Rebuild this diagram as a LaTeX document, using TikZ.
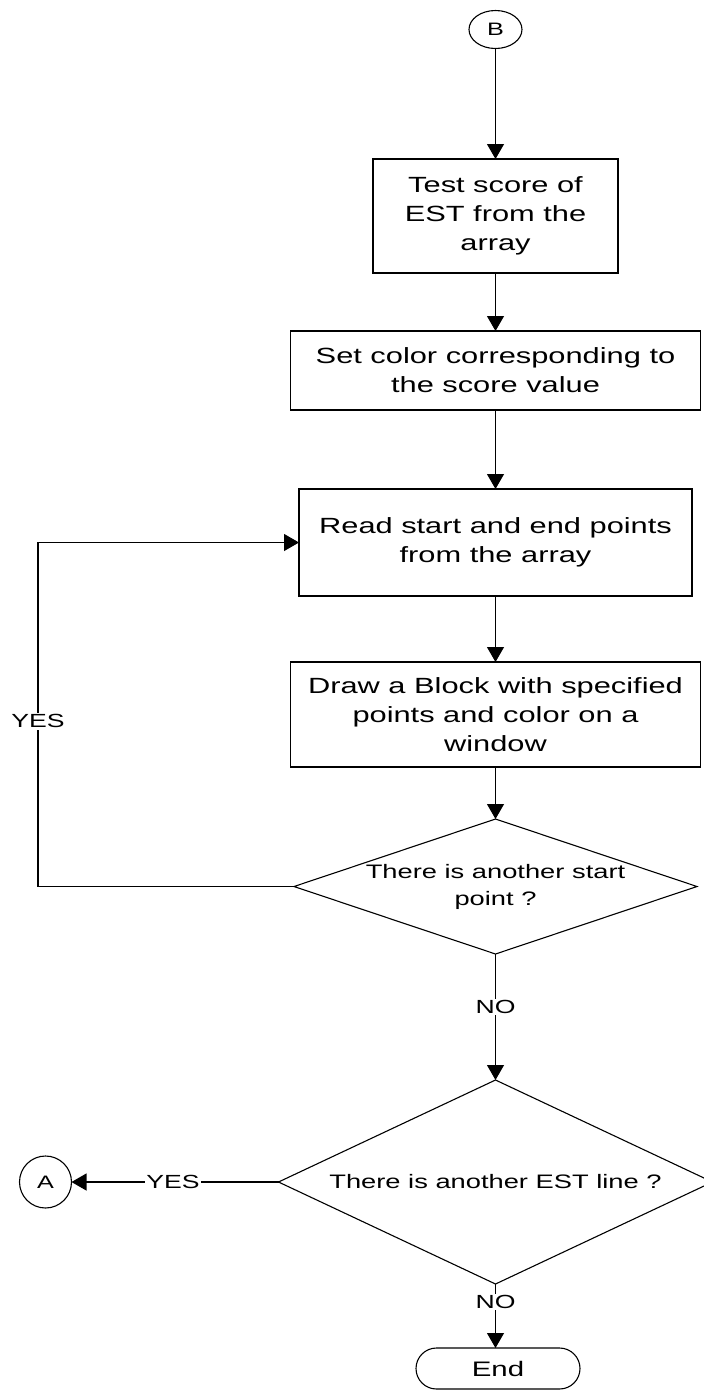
\documentclass[tikz,border=0pt]{standalone}
\usepackage{fontspec}
\usepackage{graphicx}
\setmainfont{Liberation Sans}
\usetikzlibrary{arrows.meta,shapes.geometric,shapes.misc}

% horizontally widened lettering
\newcommand{\wide}[1]{\scalebox{1.4}[1]{#1}}

\begin{document}
\begin{tikzpicture}[x=1pt,y=-1pt,
  every node/.style={inner sep=0pt, outer sep=0pt},
  procbox/.style={draw, line width=1.1pt, rectangle, align=center,
    font=\fontsize{22}{29}\selectfont},
  decision/.style={draw, line width=1.1pt, diamond},
  dtext/.style={align=center, font=\fontsize{19.5}{27}\selectfont},
  connector/.style={draw, line width=1.1pt, font=\fontsize{18}{20}\selectfont},
  terminal/.style={draw, line width=1.1pt, rounded rectangle,
    font=\fontsize{21}{24}\selectfont},
  flow/.style={line width=1.1pt, -{Triangle[width=17pt,length=15pt]}},
  plainline/.style={line width=1.1pt},
  lbl/.style={fill=white, inner sep=1.5pt, font=\fontsize{19}{22}\selectfont}
]
\useasboundingbox (0,0) rectangle (704,1390);

% connector B at the top
\node[connector, ellipse, minimum width=53pt, minimum height=38pt] (B) at (495.5,29.5) {\wide{B}};

% process steps
\node[procbox, minimum width=245pt, minimum height=114pt] (p1) at (495.5,216)
  {\wide{Test score of}\\\wide{EST from the}\\\wide{array}};
\node[procbox, minimum width=410pt, minimum height=79pt] (p2) at (495.5,370.5)
  {\wide{Set color corresponding to}\\\wide{the score value}};
\node[procbox, minimum width=393pt, minimum height=107pt] (p3) at (495.5,542.5)
  {\wide{Read start and end points}\\\wide{from the array}};
\node[procbox, minimum width=410pt, minimum height=105pt] (p4) at (495.5,714.5)
  {\wide{Draw a Block with specified}\\\wide{points and color on a}\\\wide{window}};

% decisions
\node[decision, minimum width=403pt, minimum height=135pt] (d1) at (495.5,886.5) {};
\node[dtext] (d1t) at (d1.center) {\wide{There is another start}\\\wide{point ?}};
\node[decision, minimum width=434pt, minimum height=204pt] (d2) at (495.5,1182) {};
\node[dtext] (d2t) at (d2.center) {\wide{There is another EST line ?}};

% connector A and the end terminal
\node[connector, circle, minimum size=52pt] (A) at (45.5,1182) {\wide{A}};
\node[terminal, minimum width=164pt, minimum height=41pt] (end) at (498,1368.5) {\wide{End}};

% loop corner on the left
\coordinate (loop) at (38,886.5);

% main flow
\draw[flow] (B) -- (p1);
\draw[flow] (p1) -- (p2);
\draw[flow] (p2) -- (p3);
\draw[flow] (p3) -- (p4);
\draw[flow] (p4) -- (d1);
\draw[flow] (d1.south) -- node[lbl, pos=0.42] {\wide{NO}} (d2.north);
\draw[flow] (d2.south) -- node[lbl, pos=0.28] {\wide{NO}} (d2.south |- end.north);

% repeat for the next start point
\draw[flow] (d1.west) -- (loop) |- node[lbl, pos=0.24] {\wide{YES}} (p3.west);

% next EST line
\draw[flow] (d2.west) -- node[lbl, pos=0.51] {\wide{YES}} (A.east);
\end{tikzpicture}
\end{document}
